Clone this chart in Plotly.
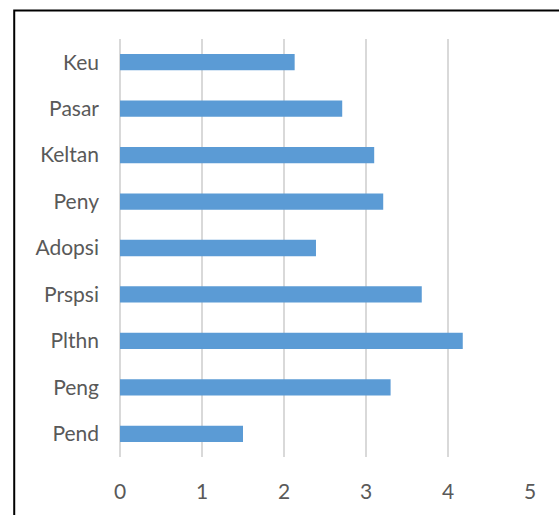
import plotly.graph_objects as go

categories = ["Pend", "Peng", "Plthn", "Prspsi", "Adopsi", "Peny", "Keltan", "Pasar", "Keu"]
values = [1.5, 3.3, 4.18, 3.68, 2.39, 3.21, 3.1, 2.71, 2.13]
x_ticks = [0, 1, 2, 3, 4, 5]

fig = go.Figure()
fig.add_trace(go.Bar(
    y=categories, x=values,
    orientation="h",
    marker=dict(color="#5B9BD5", line=dict(width=0)),
    width=0.35,
))

# chart border like the original embedded chart frame
fig.add_shape(
    type="rect", xref="paper", yref="paper",
    x0=-0.258, x1=1.2, y0=-0.4, y1=1.068,
    line=dict(color="black", width=2),
    fillcolor="rgba(0,0,0,0)",
    layer="above",
)

fig.update_layout(
    width=559, height=515,
    margin=dict(l=120, r=29, t=39, b=58),
    paper_bgcolor="white",
    plot_bgcolor="white",
    showlegend=False,
    font=dict(family="Lato, Open Sans, sans-serif", size=21, color="#595959"),
    xaxis=dict(
        range=[0, 5], tickvals=x_ticks,
        showgrid=True, gridcolor="#D9D9D9", gridwidth=1.5,
        zeroline=True, zerolinecolor="#D9D9D9", zerolinewidth=1.5,
        showline=False, automargin=False,
        ticklabelstandoff=20,
    ),
    yaxis=dict(
        categoryorder="array", categoryarray=categories,
        range=[-0.5, 8.5],
        showgrid=False, zeroline=False, showline=False,
        automargin=False,
        ticklabelstandoff=20,
    ),
)

# drop the default page margin so the figure sits at the window's corner
fig.write_html(
    "out.html",
    config={"displayModeBar": False},
    post_script="document.body.style.margin='0';",
)
